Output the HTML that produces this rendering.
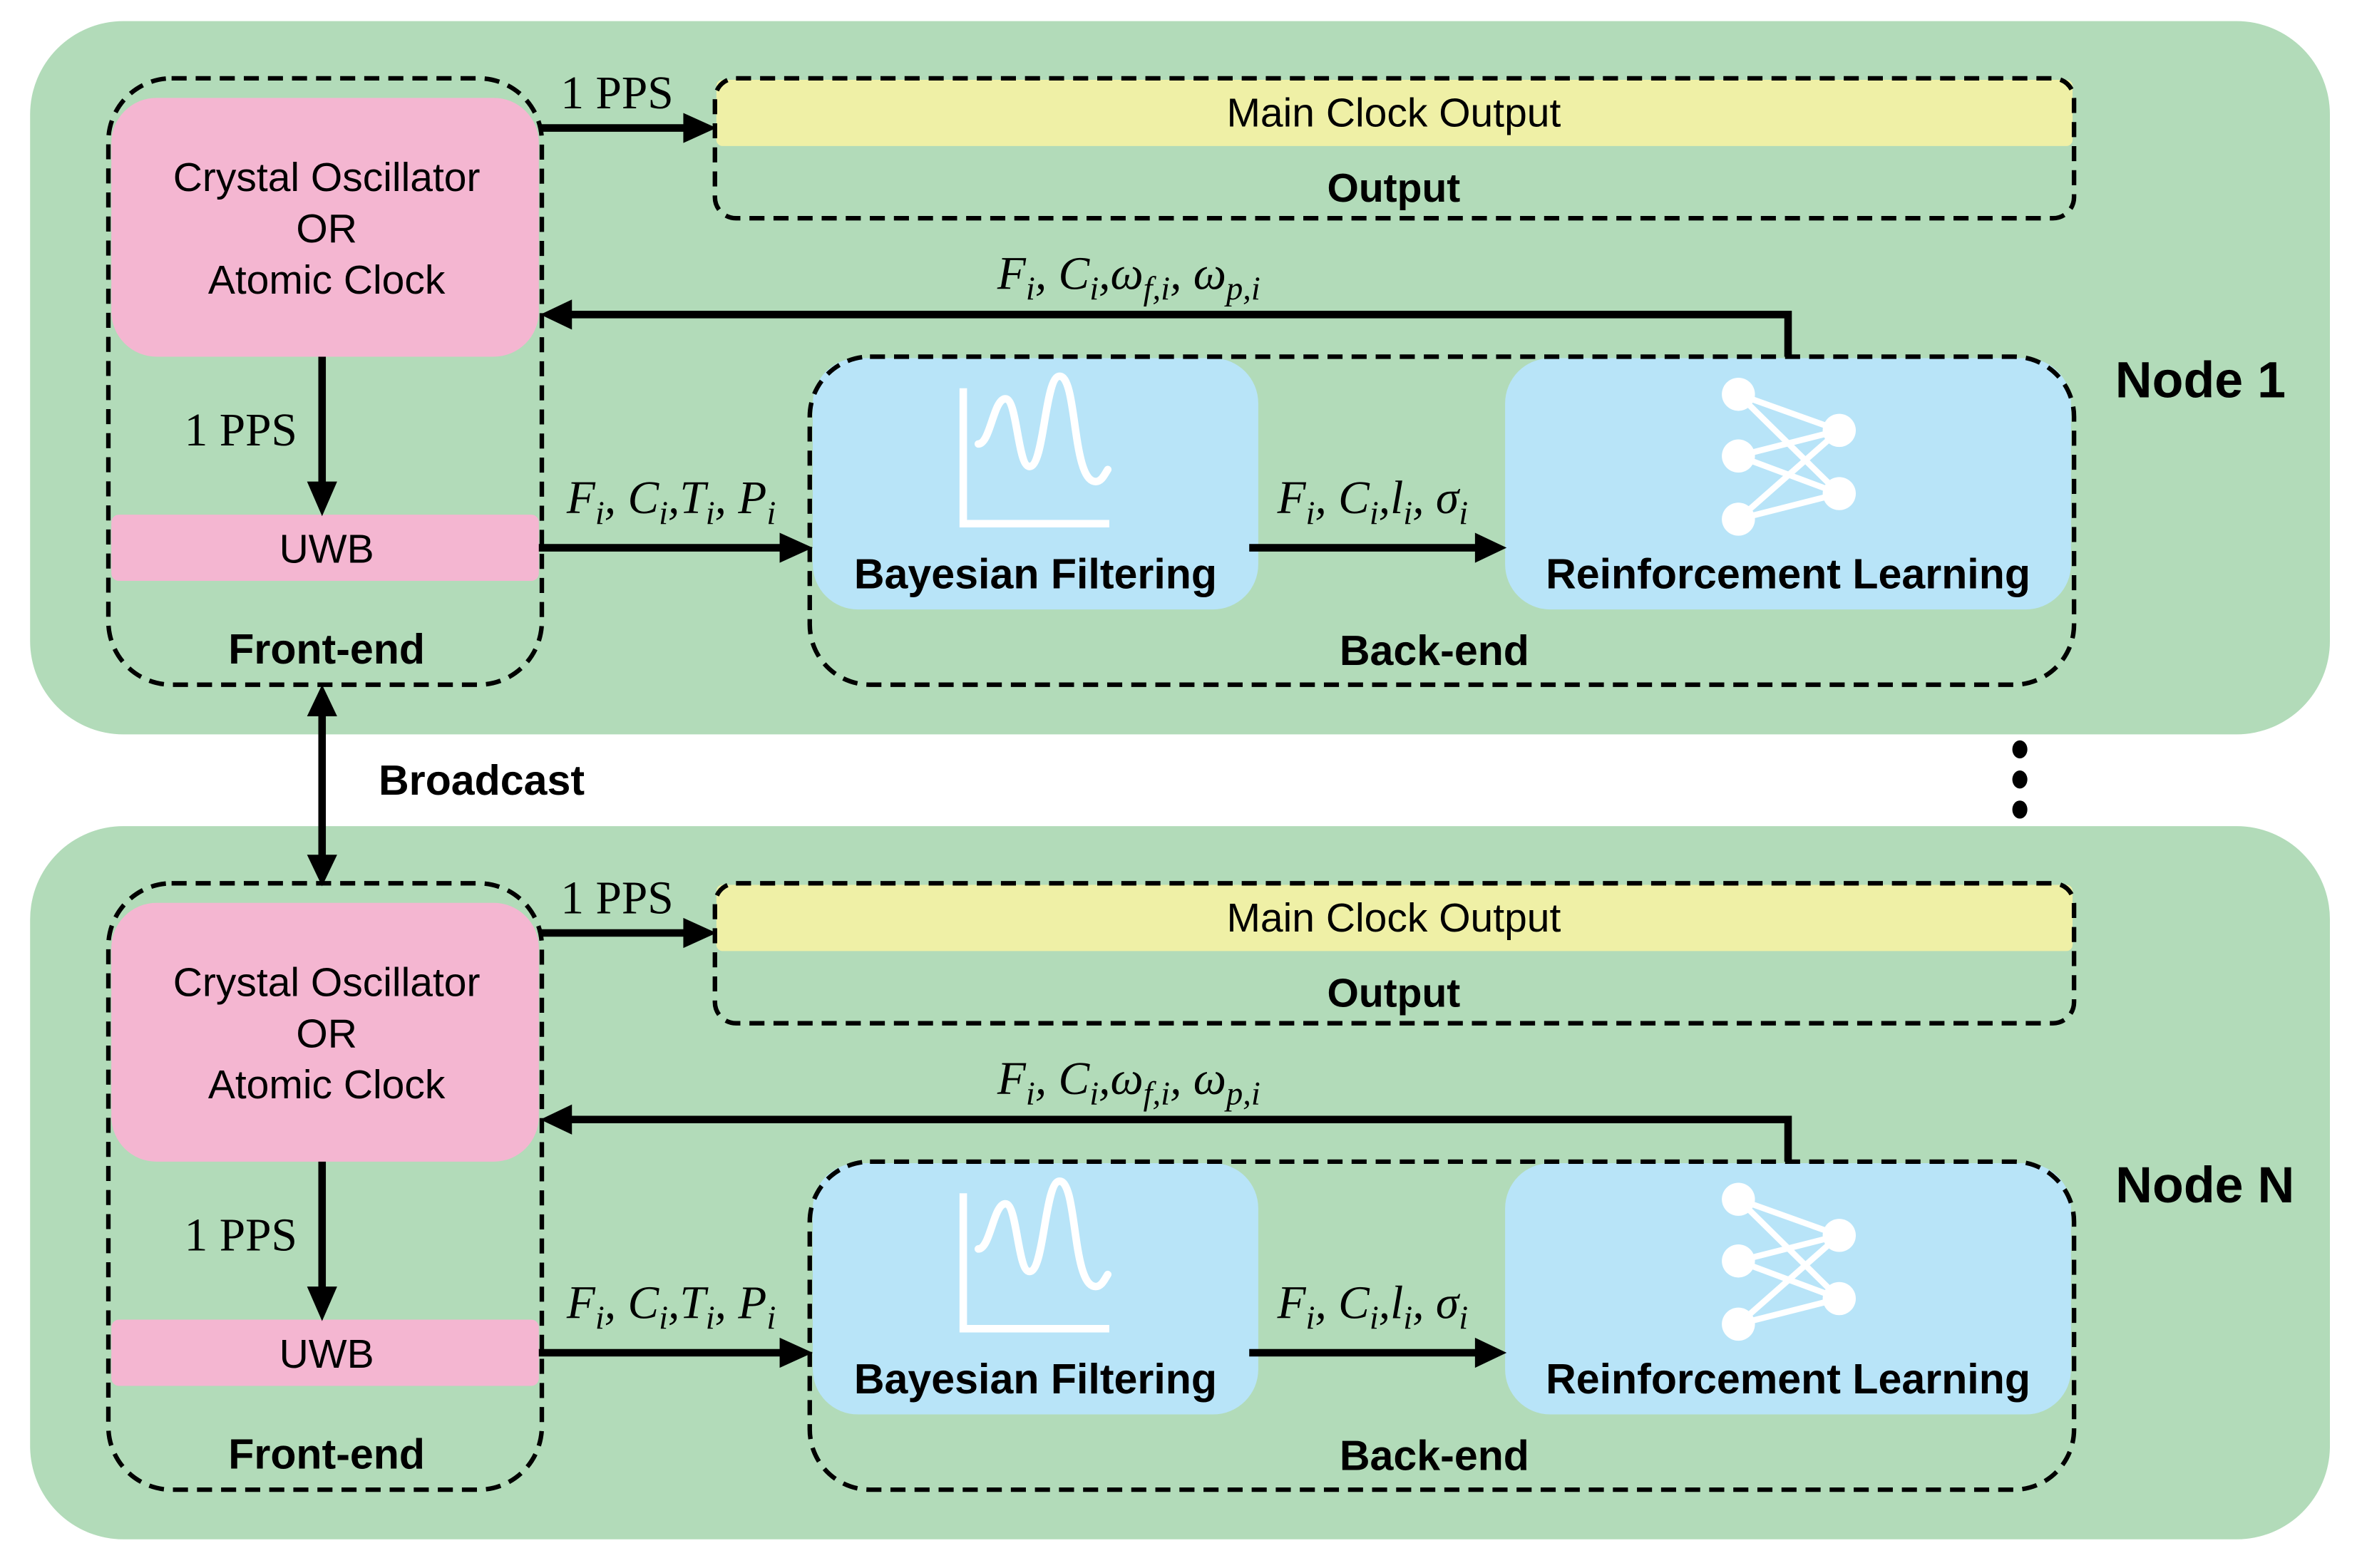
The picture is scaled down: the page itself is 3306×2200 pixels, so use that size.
<!DOCTYPE html>
<html><head><meta charset="utf-8"><style>
html,body{margin:0;padding:0;background:#fff;}
svg{display:block;}
.s{font-family:"Liberation Sans",sans-serif;}
.m{font-family:"Liberation Serif",serif;font-style:italic;}
</style></head><body>
<svg width="3306" height="2200" viewBox="0 0 1566 1042" xmlns="http://www.w3.org/2000/svg">
<defs>
<g id="node">
  <rect x="20" y="14" width="1528" height="474" rx="62" fill="#b2dbb9"/>
  <rect x="476" y="53" width="901" height="44" rx="4" fill="#eff0a6"/>
  <rect x="475" y="52" width="903" height="93" rx="14" fill="none" stroke="#000" stroke-width="3" stroke-dasharray="10,6"/>
  <text x="926" y="84" class="s" font-size="27" text-anchor="middle">Main Clock Output</text>
  <text x="926" y="134" class="s" font-size="27" font-weight="bold" text-anchor="middle">Output</text>
  <rect x="74" y="65" width="284" height="172" rx="30" fill="#f4b6d1"/>
  <rect x="74" y="342" width="284" height="44" rx="5" fill="#f4b6d1"/>
  <rect x="72" y="52" width="288" height="403" rx="42" fill="none" stroke="#000" stroke-width="3" stroke-dasharray="10,6"/>
  <text x="217" y="127" class="s" font-size="27" text-anchor="middle">Crystal Oscillator</text>
  <text x="217" y="161" class="s" font-size="27" text-anchor="middle">OR</text>
  <text x="217" y="195" class="s" font-size="27" text-anchor="middle">Atomic Clock</text>
  <text x="217" y="374" class="s" font-size="27" text-anchor="middle">UWB</text>
  <text x="217" y="441" class="s" font-size="28" font-weight="bold" text-anchor="middle">Front-end</text>
  <line x1="214" y1="237" x2="214" y2="322" stroke="#000" stroke-width="5"/>
  <polygon points="204,320 224,320 214,343" fill="#000"/>
  <text x="160" y="296" font-family="Liberation Serif,serif" font-size="31" text-anchor="middle">1 PPS</text>
  <line x1="358" y1="85" x2="456" y2="85" stroke="#000" stroke-width="5"/>
  <polygon points="454,75 476,85 454,95" fill="#000"/>
  <text x="410" y="72" font-family="Liberation Serif,serif" font-size="31" text-anchor="middle">1 PPS</text>
  <rect x="540" y="238" width="296" height="167" rx="30" fill="#b8e4f8"/>
  <rect x="1000" y="238" width="376" height="167" rx="30" fill="#b8e4f8"/>
  <rect x="538" y="237" width="840" height="218" rx="40" fill="none" stroke="#000" stroke-width="3" stroke-dasharray="10,6"/>
  <text x="688" y="391" class="s" font-size="28" font-weight="bold" text-anchor="middle">Bayesian Filtering</text>
  <text x="1188" y="391" class="s" font-size="28" font-weight="bold" text-anchor="middle">Reinforcement Learning</text>
  <text x="953" y="442" class="s" font-size="28" font-weight="bold" text-anchor="middle">Back-end</text>
  <polyline points="640,258 640,348 737,348" fill="none" stroke="#fff" stroke-width="5"/>
  <path d="M650,295 C658,295 660,265 668,265 C676,265 676,310 684,310 C694,310 694,250 704,250 C716,250 712,320 728,320 C732,320 734,315 736,312" fill="none" stroke="#fff" stroke-width="5" stroke-linecap="round"/>
  <g stroke="#fff" stroke-width="4">
    <line x1="1155" y1="262" x2="1222" y2="286"/><line x1="1155" y1="262" x2="1222" y2="328"/>
    <line x1="1155" y1="303" x2="1222" y2="286"/><line x1="1155" y1="303" x2="1222" y2="328"/>
    <line x1="1155" y1="345" x2="1222" y2="286"/><line x1="1155" y1="345" x2="1222" y2="328"/>
  </g>
  <g fill="#fff"><circle cx="1155" cy="262" r="11"/><circle cx="1155" cy="303" r="11"/><circle cx="1155" cy="345" r="11"/><circle cx="1222" cy="286" r="11"/><circle cx="1222" cy="328" r="11"/></g>
  <line x1="358" y1="364" x2="520" y2="364" stroke="#000" stroke-width="5"/>
  <polygon points="518,354 540,364 518,374" fill="#000"/>
  <text x="446" y="341" class="m" font-size="31" text-anchor="middle">F<tspan font-size="22" dy="7">i</tspan><tspan dy="-7">, C</tspan><tspan font-size="22" dy="7">i</tspan><tspan dy="-7">,T</tspan><tspan font-size="22" dy="7">i</tspan><tspan dy="-7">, P</tspan><tspan font-size="22" dy="7">i</tspan></text>
  <line x1="830" y1="364" x2="982" y2="364" stroke="#000" stroke-width="5"/>
  <polygon points="980,354 1001,364 980,374" fill="#000"/>
  <text x="912" y="341" class="m" font-size="31" text-anchor="middle">F<tspan font-size="22" dy="7">i</tspan><tspan dy="-7">, C</tspan><tspan font-size="22" dy="7">i</tspan><tspan dy="-7">,l</tspan><tspan font-size="22" dy="7">i</tspan><tspan dy="-7">, σ</tspan><tspan font-size="22" dy="7">i</tspan></text>
  <polyline points="1188,237 1188,209 378,209" fill="none" stroke="#000" stroke-width="5"/>
  <polygon points="380,199 359,209 380,219" fill="#000"/>
  <text x="750" y="192" class="m" font-size="31" text-anchor="middle">F<tspan font-size="22" dy="7">i</tspan><tspan dy="-7">, C</tspan><tspan font-size="22" dy="7">i</tspan><tspan dy="-7">,ω</tspan><tspan font-size="22" dy="7">f,i</tspan><tspan dy="-7">, ω</tspan><tspan font-size="22" dy="7">p,i</tspan></text>
</g>
</defs>
<use href="#node"/>
<use href="#node" y="535"/>
<text x="1462" y="264" class="s" font-size="34" font-weight="bold" text-anchor="middle">Node 1</text>
<text x="1465" y="799" class="s" font-size="34" font-weight="bold" text-anchor="middle">Node N</text>
<g fill="#000"><ellipse cx="1342" cy="498" rx="5" ry="6"/><ellipse cx="1342" cy="518" rx="5" ry="6"/><ellipse cx="1342" cy="538" rx="5" ry="6"/></g>
<line x1="214" y1="474" x2="214" y2="570" stroke="#000" stroke-width="5"/>
<polygon points="204,476 214,455 224,476" fill="#000"/>
<polygon points="204,568 214,589 224,568" fill="#000"/>
<text x="320" y="528" class="s" font-size="28" font-weight="bold" text-anchor="middle">Broadcast</text>
</svg>
</body></html>
